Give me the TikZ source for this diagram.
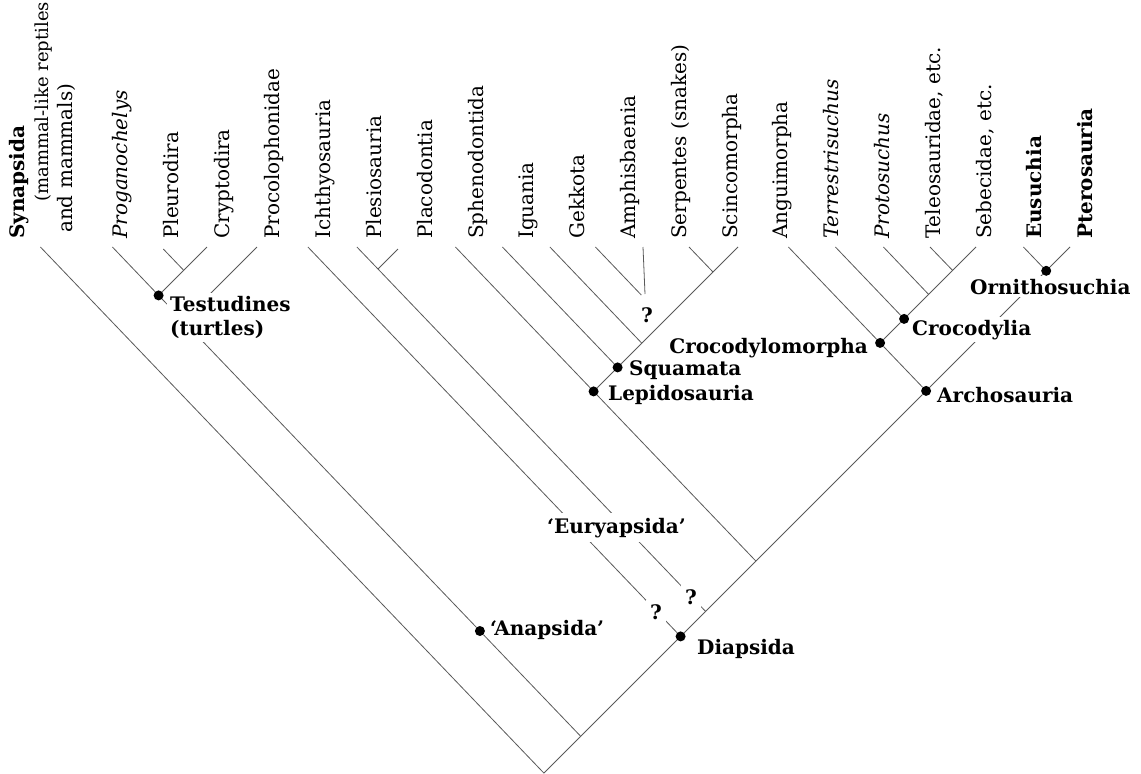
\documentclass[tikz,border=0pt]{standalone}
\usepackage{fontspec}
\setmainfont{DejaVu Serif}
\usepackage{tikz}
\newcommand{\leaffont}{\fontsize{20}{24}\selectfont}
\newcommand{\cladefont}{\fontsize{20}{24}\selectfont\bfseries}
\tikzstyle{dot}=[circle, fill=black, inner sep=0pt, minimum size=10pt]
\tikzstyle{branch}=[draw=black!65, line width=.8pt]
\tikzstyle{leaf}=[rotate=90, anchor=base west, inner sep=0pt, font=\leaffont]
\tikzstyle{clade}=[anchor=base west, inner sep=0pt, font=\cladefont]
\tikzstyle{gap}=[fill=white, inner sep=3pt]
\tikzstyle{query}=[font=\cladefont, fill=white, inner sep=4pt]

\begin{document}
\begin{tikzpicture}[x=1pt, y=-1pt]
    \useasboundingbox (0,0) rectangle (1141,774);

    % spine
    \coordinate (root) at (543.9,773.1);
    \coordinate (anJ) at (580.7,736.3);
    \node[dot] (dia) at (680.6,636.4) {};
    \coordinate (euJ) at (705.6,611.4);
    \coordinate (lepJ) at (755.9,561.1);
    \node[dot] (archo) at (926.1,390.9) {};
    \node[dot] (ornith) at (1046.2,270.8) {};

    % anapsids
    \node[dot] (anap) at (479.9,631) {};
    \coordinate (procJ) at (183.1,320.9);
    \node[dot] (testu) at (158.6,295.4) {};
    \coordinate (turtJ) at (183.7,270.3);

    % euryapsids
    \coordinate (plesJ) at (378,269);

    % lepidosaurs
    \node[dot] (lepi) at (593.6,391.4) {};
    \node[dot] (squa) at (617.6,367.4) {};
    \coordinate (gekJ) at (641.8,343.2);
    \coordinate (serJ) at (713,272);

    % archosaurs
    \node[dot] (crocm) at (880.1,342.9) {};
    \node[dot] (crocy) at (904.1,318.9) {};
    \coordinate (protJ) at (928.6,294.4);
    \coordinate (telJ) at (952.6,270.4);

    % tips
    \coordinate (synT) at (40.4,247);
    \coordinate (progT) at (112.4,247);
    \coordinate (pleT) at (163.3,249);
    \coordinate (cryT) at (207,247);
    \coordinate (procT) at (257,247);
    \coordinate (ichT) at (307.9,247);
    \coordinate (plesT) at (356.9,247);
    \coordinate (placT) at (398,249);
    \coordinate (sphT) at (455.4,247);
    \coordinate (iguT) at (502.4,247);
    \coordinate (gekT) at (549.9,247);
    \coordinate (amphT) at (595.4,247);
    \coordinate (amphE) at (641.3,295);
    \coordinate (amphV) at (643,247);
    \coordinate (amphW) at (645,294);
    \coordinate (serT) at (689,247);
    \coordinate (sciT) at (738,247);
    \coordinate (angT) at (788.4,247);
    \coordinate (terT) at (835.4,247);
    \coordinate (proT) at (883.4,247);
    \coordinate (telT) at (930,247);
    \coordinate (sebT) at (976,247);
    \coordinate (eusT) at (1023.4,247);
    \coordinate (pteT) at (1070,247);

    \draw[branch] (root) -- (synT);
    \draw[branch] (root) -- (anJ) -- (dia) -- (euJ) -- (lepJ) -- (archo) -- (ornith) -- (pteT);
    \draw[branch] (anJ) -- (anap) -- (procJ) -- (testu) -- (progT);
    \draw[branch] (procJ) -- (procT);
    \draw[branch] (testu) -- (turtJ) -- (cryT);
    \draw[branch] (turtJ) -- (pleT);
    \draw[branch] (dia) -- (ichT);
    \draw[branch] (euJ) -- (plesJ) -- (plesT);
    \draw[branch] (plesJ) -- (placT);
    \draw[branch] (lepJ) -- (lepi) -- (sphT);
    \draw[branch] (lepi) -- (squa) -- (gekJ) -- (serJ) -- (sciT);
    \draw[branch] (squa) -- (iguT);
    \draw[branch] (gekJ) -- (gekT);
    \draw[branch] (serJ) -- (serT);
    \draw[branch] (amphT) -- (amphE);
    \draw[branch] (amphV) -- (amphW);
    \draw[branch] (archo) -- (crocm) -- (angT);
    \draw[branch] (crocm) -- (crocy) -- (protJ) -- (telJ) -- (sebT);
    \draw[branch] (crocy) -- (terT);
    \draw[branch] (protJ) -- (proT);
    \draw[branch] (telJ) -- (telT);
    \draw[branch] (ornith) -- (eusT);

    % taxa
    \node[leaf, font=\leaffont\bfseries] (synL) at (24,239) {Synapsida};
    \node[leaf, font=\fontsize{18}{22}\selectfont] (mamL) at (48,202) {(mammal-like reptiles};
    \node[leaf] (andL) at (72,233) {and mammals)};
    \node[leaf] (progL) at (127.5,239) {\itshape Proganochelys};
    \node[leaf] (pleL) at (178.3,239) {Pleurodira};
    \node[leaf] (cryL) at (229.1,239) {Cryptodira};
    \node[leaf] (procL) at (279.9,239) {Procolophonidae};
    \node[leaf] (ichL) at (330.7,239) {Ichthyosauria};
    \node[leaf] (plesL) at (381.5,239) {Plesiosauria};
    \node[leaf] (placL) at (432.3,239) {Placodontia};
    \node[leaf] (sphL) at (483.1,239) {Sphenodontida};
    \node[leaf] (iguL) at (533.9,239) {Iguania};
    \node[leaf] (gekL) at (584.7,239) {Gekkota};
    \node[leaf] (amphL) at (635.5,239) {Amphisbaenia};
    \node[leaf] (serL) at (686.3,239) {Serpentes (snakes)};
    \node[leaf] (sciL) at (737.1,239) {Scincomorpha};
    \node[leaf] (angL) at (787.9,239) {Anguimorpha};
    \node[leaf] (terL) at (838.7,239) {\itshape Terrestrisuchus};
    \node[leaf] (proL) at (889.5,239) {\itshape Protosuchus};
    \node[leaf] (telL) at (940.3,239) {Teleosauridae, etc.};
    \node[leaf] (sebL) at (991.1,239) {Sebecidae, etc.};
    \node[leaf, font=\leaffont\bfseries] (eusL) at (1041.9,239) {Eusuchia};
    \node[leaf, font=\leaffont\bfseries] (pteL) at (1092.7,239) {Pterosauria};

    % clades
    \node[clade, gap, align=left, anchor=north west] (testuL) at (167,293) {Testudines\\(turtles)};
    \node[clade] (anapL) at (490,635) {‘Anapsida’};
    \node[clade, gap, inner sep=5pt] (euryL) at (542,533) {‘Euryapsida’};
    \node[clade] (diaL) at (697,654) {Diapsida};
    \node[clade] (squaL) at (629,375) {Squamata};
    \node[clade] (lepiL) at (608,400.5) {Lepidosauria};
    \node[clade, anchor=base east] (crocmL) at (868,353) {Crocodylomorpha};
    \node[clade, gap] (crocyL) at (909,335) {Crocodylia};
    \node[clade] (archoL) at (937,402) {Archosauria};
    \node[clade, gap] (ornithL) at (967,294) {Ornithosuchia};
    \node[query] (q1) at (656,612) {?};
    \node[query] (q2) at (691,597) {?};
    \node[query] (q3) at (647,315) {?};
\end{tikzpicture}
\end{document}
